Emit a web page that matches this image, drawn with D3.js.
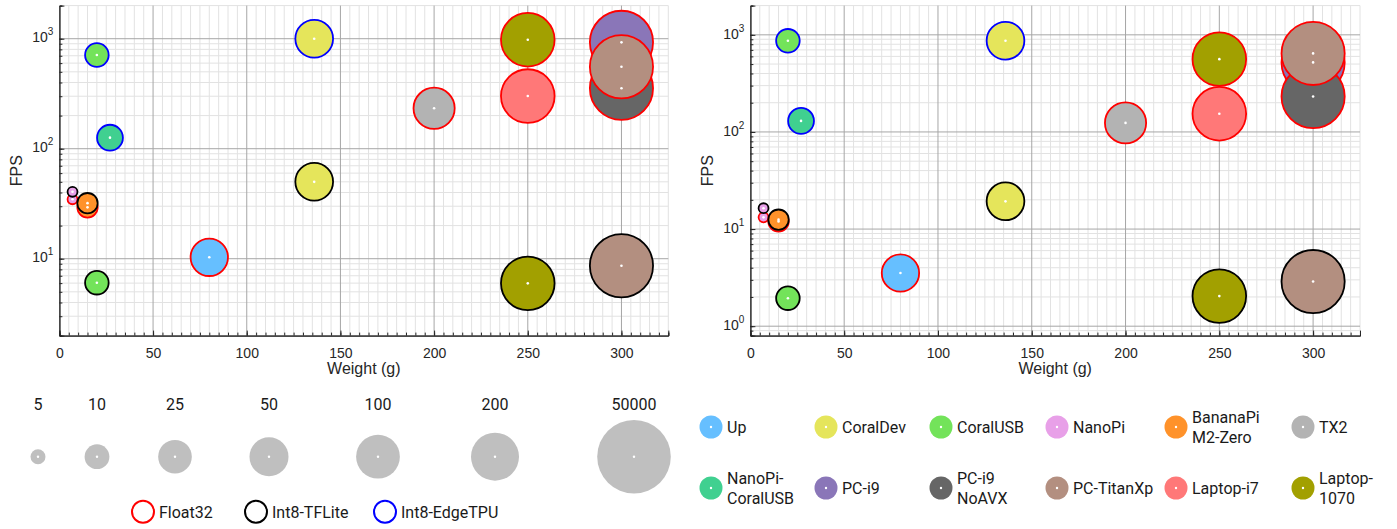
<!DOCTYPE html>
<html>
<head>
<meta charset="utf-8">
<script src="https://cdn.jsdelivr.net/npm/d3@7"></script>
<style>
  body { margin: 0; background: #fff; }
  svg { display: block; }
</style>
</head>
<body>
<svg id="chart" width="1397" height="529"></svg>
<script>
// ---- data -------------------------------------------------------------
const devices = ["Up", "CoralDev", "CoralUSB", "NanoPi", "BananaPi", "TX2",
  "NanoPi-CoralUSB", "PC-i9", "PC-i9 NoAVX", "PC-TitanXp", "Laptop-i7", "Laptop-1070"];
const deviceLegendLabels = [["Up"], ["CoralDev"], ["CoralUSB"], ["NanoPi"], ["BananaPi", "M2-Zero"], ["TX2"],
  ["NanoPi-", "CoralUSB"], ["PC-i9"], ["PC-i9", "NoAVX"], ["PC-TitanXp"], ["Laptop-i7"], ["Laptop-", "1070"]];
const deviceWeight = [80, 136, 20, 7, 15, 200, 27, 300, 300, 300, 250, 250];   // grams
const deviceSize = [40, 42, 9, 4, 7, 68, 11, 4000, 4000, 4000, 550, 550];      // bubble size value

const precisions = ["Float32", "Int8-TFLite", "Int8-EdgeTPU"];

// FPS per device, left panel
const fpsLeftFloat32  = [10.3, null, null, 34.7, 29.3, 233, null, 927, 354, 556, 301, 979];
const fpsLeftTFLite   = [null, 50, 6.05, 40.6, 32, null, null, null, null, 8.63, null, 5.97];
const fpsLeftEdgeTPU  = [null, 1000, 711, null, null, null, 126, null, null, null, null, null];
// FPS per device, right panel
const fpsRightFloat32 = [3.53, null, null, 13.2, 12.0, 124, null, 520, 232, 644, 154, 562];
const fpsRightTFLite  = [null, 19.3, 1.94, 16.4, 12.5, null, null, null, null, 2.88, null, 2.04];
const fpsRightEdgeTPU = [null, 870, 868, null, null, null, 130, null, null, null, null, null];

const weightTicks = [0, 50, 100, 150, 200, 250, 300];
const fpsTicksLeft = [10, 100, 1000];
const fpsTicksRight = [1, 10, 100, 1000];
const sizeLegendValues = [5, 10, 25, 50, 100, 200, 50000];

// ---- styles -----------------------------------------------------------
const palette = ["#66bfff", "#e5e55b", "#73e35a", "#e8a0e8", "#ff922a", "#b3b3b3",
  "#40d090", "#8a76b8", "#666666", "#b38f80", "#ff7878", "#a2a000"];
const precisionStroke = ["#ff0000", "#000000", "#0000ff"];
const color = d3.scaleOrdinal(devices, palette);
const strokeOf = d3.scaleOrdinal(precisions, precisionStroke);

// bubble area grows with the log of the size value (offset so tiny values stay visible)
const logOffset = Math.log10(3.36);
const areaScale = d3.scaleSqrt().domain([0, Math.log10(50000) - logOffset]).range([0, 36.8]);
const radius = v => areaScale(Math.max(0, Math.log10(v) - logOffset));

const axisFont = "'Liberation Sans', Arial, sans-serif";
const legendFont = "Roboto, 'Liberation Sans', sans-serif";

const svg = d3.select("#chart");

// ---- panel drawing ----------------------------------------------------
function drawPanel(opts) {
  const { left, right, top, bottom, yDomain, yTicks, series } = opts;
  const x = d3.scaleLinear().domain([0, 325]).range([left, right]);
  const y = d3.scaleLog().domain(yDomain).range([bottom, top]);
  const g = svg.append("g");

  // minor / major grid values
  const xMinor = d3.range(0, 326, 5);
  const yMinor = [];
  for (let d = Math.floor(Math.log10(yDomain[0])); d <= Math.ceil(Math.log10(yDomain[1])); d++) {
    for (let k = 1; k <= 9; k++) {
      const v = k * Math.pow(10, d);
      if (v >= yDomain[0] - 1e-9 && v <= yDomain[1] + 1e-9) yMinor.push(v);
    }
  }

  const grid = g.append("g");
  grid.selectAll(".xminor").data(xMinor.filter(v => v % 50 !== 0)).join("line")
    .attr("x1", d => x(d)).attr("x2", d => x(d)).attr("y1", top).attr("y2", bottom)
    .attr("stroke", "#e2e2e2").attr("stroke-width", 1);
  grid.selectAll(".yminor").data(yMinor.filter(v => !yTicks.includes(v))).join("line")
    .attr("x1", left).attr("x2", right).attr("y1", d => y(d)).attr("y2", d => y(d))
    .attr("stroke", "#e2e2e2").attr("stroke-width", 1);
  grid.selectAll(".xmajor").data(weightTicks.filter(v => v > 0)).join("line")
    .attr("x1", d => x(d)).attr("x2", d => x(d)).attr("y1", top).attr("y2", bottom)
    .attr("stroke", "#a6a6a6").attr("stroke-width", 1);
  grid.selectAll(".ymajor").data(yTicks).join("line")
    .attr("x1", left).attr("x2", right).attr("y1", d => y(d)).attr("y2", d => y(d))
    .attr("stroke", "#a6a6a6").attr("stroke-width", 1);

  // bubbles: device order, then precision order
  const points = [];
  devices.forEach((dev, i) => {
    series.forEach((vals, p) => {
      if (vals[i] != null) points.push({ dev, i, p: precisions[p], fps: vals[i] });
    });
  });
  const bub = g.append("g");
  bub.selectAll("circle.b").data(points).join("circle")
    .attr("cx", d => x(deviceWeight[d.i]))
    .attr("cy", d => y(d.fps))
    .attr("r", d => radius(deviceSize[d.i]))
    .attr("fill", d => color(d.dev))
    .attr("stroke", d => strokeOf(d.p))
    .attr("stroke-width", 1.8);
  bub.selectAll("circle.c").data(points).join("circle")
    .attr("cx", d => x(deviceWeight[d.i]))
    .attr("cy", d => y(d.fps))
    .attr("r", 1.3).attr("fill", "#fff");

  // x axis
  const xAxisMinor = d3.axisBottom(x).tickValues(xMinor).tickSize(-3).tickFormat("");
  const xAxisMajor = d3.axisBottom(x).tickValues(weightTicks).tickSize(-5).tickPadding(12);
  const gxm = g.append("g").attr("transform", `translate(0,${bottom})`).call(xAxisMinor);
  const gx = g.append("g").attr("transform", `translate(0,${bottom})`).call(xAxisMajor);
  [gxm, gx].forEach(a => {
    a.selectAll("path").attr("stroke", "#262626");
    a.selectAll("line").attr("stroke", "#262626");
  });
  gx.selectAll("text").attr("font-family", axisFont).attr("font-size", 14).attr("fill", "#262626");

  // y axis
  const yAxisMinor = d3.axisLeft(y).tickValues(yMinor).tickSize(-3).tickFormat("");
  const yAxisMajor = d3.axisLeft(y).tickValues(yTicks).tickSize(-5).tickPadding(6)
    .tickFormat(() => "");
  const gym = g.append("g").attr("transform", `translate(${left},0)`).call(yAxisMinor);
  const gy = g.append("g").attr("transform", `translate(${left},0)`).call(yAxisMajor);
  [gym, gy].forEach(a => {
    a.selectAll("path").attr("stroke", "#262626");
    a.selectAll("line").attr("stroke", "#262626");
  });
  gy.selectAll(".tick text").each(function (d) {
    const t = d3.select(this)
      .attr("font-family", axisFont).attr("fill", "#262626").attr("dy", "0.32em");
    t.append("tspan").attr("font-size", 14).text("10");
    t.append("tspan").attr("font-size", 10).attr("dy", "-0.7em").text(Math.round(Math.log10(d)));
  });

  // titles
  g.append("text")
    .attr("x", (left + right) / 2).attr("y", bottom + 38)
    .attr("text-anchor", "middle").attr("font-family", axisFont).attr("font-size", 16)
    .attr("fill", "#262626").text("Weight (g)");
  g.append("text")
    .attr("transform", `translate(${left - 37},${(top + bottom) / 2}) rotate(-90)`)
    .attr("text-anchor", "middle").attr("font-family", axisFont).attr("font-size", 16)
    .attr("fill", "#262626").text("FPS");
}

drawPanel({
  left: 59.4, right: 668.3, top: 5.6, bottom: 335.6,
  yDomain: [2, 2000], yTicks: fpsTicksLeft,
  series: [fpsLeftFloat32, fpsLeftTFLite, fpsLeftEdgeTPU]
});
drawPanel({
  left: 750.4, right: 1360, top: 5.6, bottom: 335.6,
  yDomain: [0.8, 2000], yTicks: fpsTicksRight,
  series: [fpsRightFloat32, fpsRightTFLite, fpsRightEdgeTPU]
});

// ---- size legend ------------------------------------------------------
const sizeSlots = [38, 97, 175, 269, 378, 495, 634];
const sl = svg.append("g");
sizeLegendValues.forEach((v, i) => {
  sl.append("text").attr("x", sizeSlots[i]).attr("y", 410)
    .attr("text-anchor", "middle").attr("font-family", legendFont).attr("font-size", 16)
    .attr("fill", "#1a1a1a").text(v);
  sl.append("circle").attr("cx", sizeSlots[i]).attr("cy", 456.7)
    .attr("r", radius(v)).attr("fill", "#bfbfbf");
  sl.append("circle").attr("cx", sizeSlots[i]).attr("cy", 456.7)
    .attr("r", 1.2).attr("fill", "#fff");
});

// ---- precision legend -------------------------------------------------
const precSlots = [143, 256, 385];
const pl = svg.append("g");
precisions.forEach((p, i) => {
  pl.append("circle").attr("cx", precSlots[i]).attr("cy", 511.7).attr("r", 11)
    .attr("fill", "none").attr("stroke", strokeOf(p)).attr("stroke-width", 2);
  pl.append("text").attr("x", precSlots[i] + 16).attr("y", 517.5)
    .attr("font-family", legendFont).attr("font-size", 16).attr("fill", "#1a1a1a").text(p);
});

// ---- device legend ----------------------------------------------------
const devCols = [711, 826, 941, 1057, 1176, 1303];
const devRows = [427, 488];
const dl = svg.append("g");
devices.forEach((dev, i) => {
  const cx = devCols[i % 6], cy = devRows[Math.floor(i / 6)];
  dl.append("circle").attr("cx", cx).attr("cy", cy).attr("r", 11.5).attr("fill", color(dev));
  dl.append("circle").attr("cx", cx).attr("cy", cy).attr("r", 1.2).attr("fill", "#fff");
  const lines = deviceLegendLabels[i];
  const t = dl.append("text").attr("font-family", legendFont).attr("font-size", 16).attr("fill", "#1a1a1a");
  lines.forEach((ln, k) => {
    t.append("tspan").attr("x", cx + 16)
      .attr("y", cy + 5.5 + (k - (lines.length - 1) / 2) * 20).text(ln);
  });
});
</script>
</body>
</html>
